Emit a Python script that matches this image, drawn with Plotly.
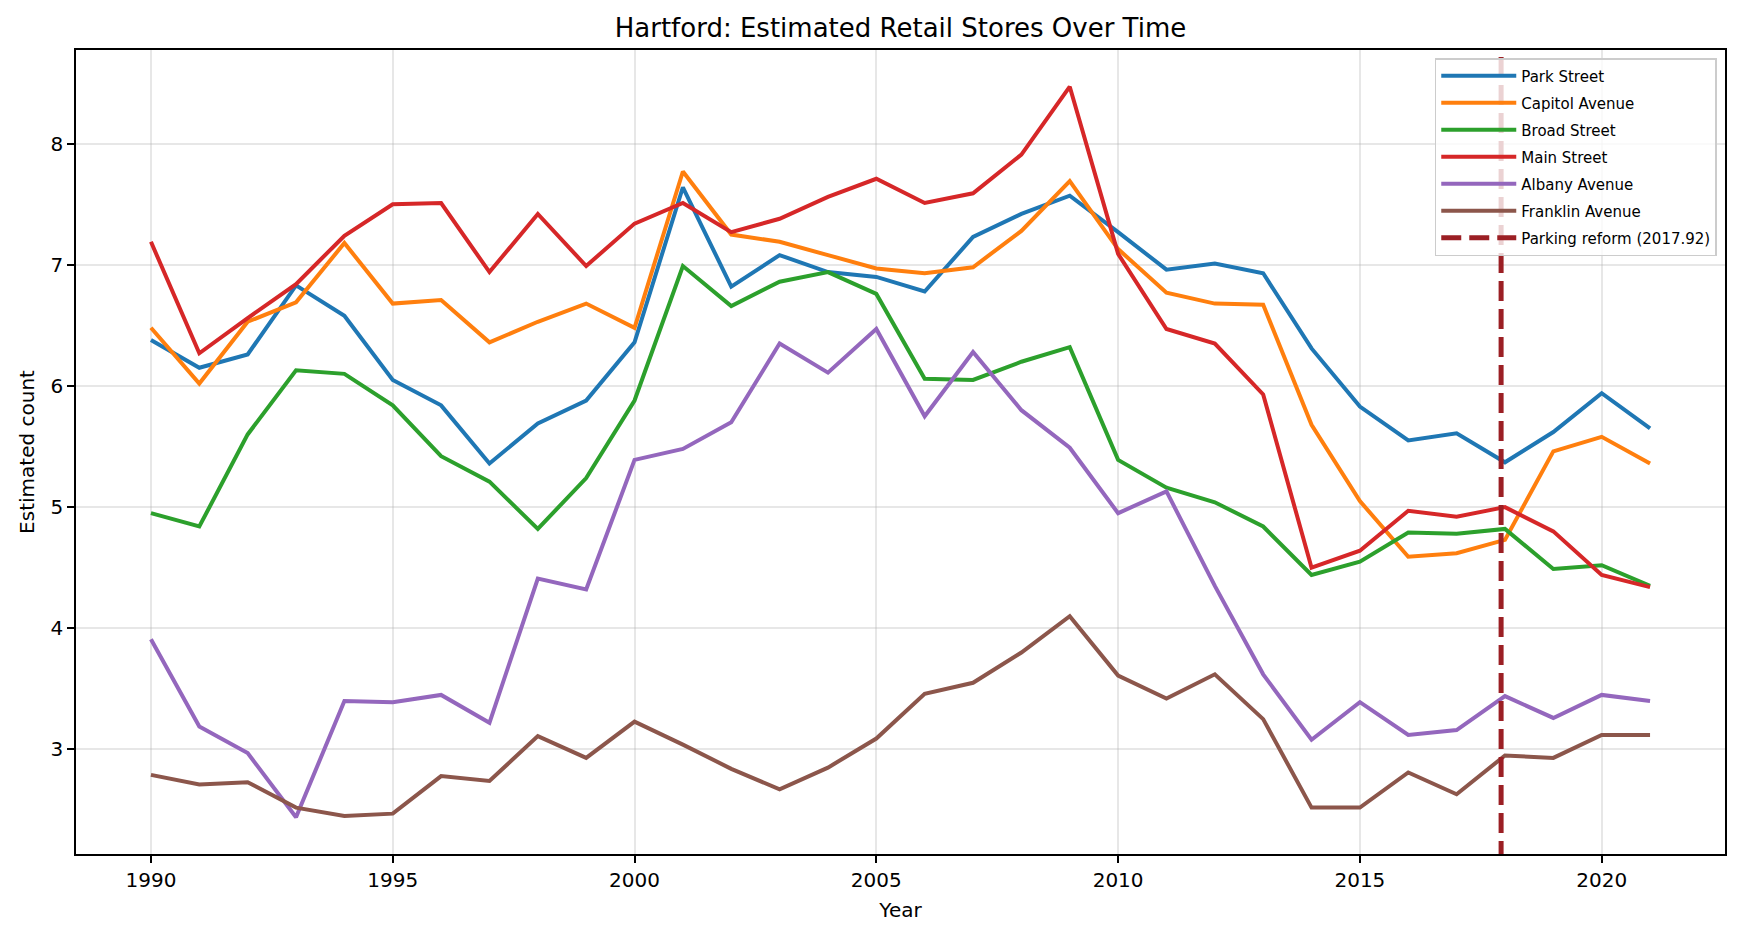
import plotly.graph_objects as go

# years covered by the estimates
years = list(range(1990, 2022))

park_street = [6.38, 6.15, 6.26, 6.83, 6.58, 6.05, 5.84, 5.36, 5.69, 5.88, 6.36, 7.64, 6.82, 7.08, 6.94, 6.90,
               6.78, 7.23, 7.42, 7.57, 7.27, 6.96, 7.01, 6.93, 6.31, 5.83, 5.55, 5.61, 5.37, 5.62, 5.94, 5.65]
capitol_avenue = [6.48, 6.02, 6.53, 6.69, 7.18, 6.68, 6.71, 6.36, 6.53, 6.68, 6.48, 7.77, 7.25, 7.19, 7.08, 6.97,
                  6.93, 6.98, 7.28, 7.69, 7.13, 6.77, 6.68, 6.67, 5.68, 5.05, 4.59, 4.62, 4.73, 5.46, 5.58, 5.36]
broad_street = [4.95, 4.84, 5.60, 6.13, 6.10, 5.84, 5.42, 5.21, 4.82, 5.24, 5.88, 6.99, 6.66, 6.86, 6.94, 6.76,
                6.06, 6.05, 6.20, 6.32, 5.39, 5.16, 5.04, 4.84, 4.44, 4.55, 4.79, 4.78, 4.82, 4.49, 4.52, 4.35]
main_street = [7.19, 6.27, 6.56, 6.84, 7.24, 7.50, 7.51, 6.94, 7.42, 6.99, 7.34, 7.51, 7.27, 7.38, 7.56, 7.71,
               7.51, 7.59, 7.91, 8.47, 7.09, 6.47, 6.35, 5.93, 4.50, 4.64, 4.97, 4.92, 5.00, 4.80, 4.44, 4.34]
albany_avenue = [3.91, 3.19, 2.97, 2.44, 3.40, 3.39, 3.45, 3.22, 4.41, 4.32, 5.39, 5.48, 5.70, 6.35, 6.11, 6.47,
                 5.75, 6.28, 5.80, 5.49, 4.95, 5.13, 4.35, 3.62, 3.08, 3.39, 3.12, 3.16, 3.44, 3.26, 3.45, 3.40]
franklin_avenue = [2.79, 2.71, 2.73, 2.52, 2.45, 2.47, 2.78, 2.74, 3.11, 2.93, 3.23, 3.04, 2.84, 2.67, 2.85, 3.09,
                   3.46, 3.55, 3.80, 4.10, 3.61, 3.42, 3.62, 3.25, 2.52, 2.52, 2.81, 2.63, 2.95, 2.93, 3.12, 3.12]

street_names = ["Park Street", "Capitol Avenue", "Broad Street", "Main Street", "Albany Avenue", "Franklin Avenue"]
street_values = [park_street, capitol_avenue, broad_street, main_street, albany_avenue, franklin_avenue]
colors = ["#1f77b4", "#ff7f0e", "#2ca02c", "#d62728", "#9467bd", "#8c564b"]

reform_year = 2017.92

fig = go.Figure()
for i, (name, vals, c) in enumerate(zip(street_names, street_values, colors)):
    fig.add_trace(go.Scatter(x=years, y=vals, mode="lines", name=name, legendgroup=f"g{i}",
                             line=dict(color=c, width=4)))

# dashed reform marker (also listed in the legend)
fig.add_trace(go.Scatter(x=[reform_year, reform_year], y=[0, 20], mode="lines",
                         name=f"Parking reform ({reform_year})", legendgroup="reform",
                         line=dict(color="#9b1f24", width=5, dash="20px,8px")))

grid_col = "rgba(176,176,176,0.3)"
font_family = "DejaVu Sans"

fig.update_xaxes(range=[1988.45, 2022.55], tickvals=[1990, 1995, 2000, 2005, 2010, 2015, 2020],
                 showgrid=True, gridcolor=grid_col, gridwidth=1.6, zeroline=False,
                 showline=True, linecolor="black", linewidth=1.7, mirror=True,
                 ticks="outside", ticklen=7, tickwidth=1.7, tickcolor="black",
                 tickfont=dict(size=20, color="black"),
                 title=dict(text="Year", font=dict(size=20, color="black"), standoff=12))
fig.update_yaxes(range=[2.137, 8.773], tickvals=[3, 4, 5, 6, 7, 8],
                 showgrid=True, gridcolor=grid_col, gridwidth=1.6, zeroline=False,
                 showline=True, linecolor="black", linewidth=1.7, mirror=True,
                 ticks="outside", ticklen=7, tickwidth=1.7, tickcolor="black",
                 tickfont=dict(size=20, color="black"),
                 title=dict(text="Estimated count", font=dict(size=20, color="black"), standoff=10))

fig.update_layout(
    width=1741, height=936,
    margin=dict(l=68, r=24, t=42, b=90),
    plot_bgcolor="white", paper_bgcolor="white",
    font=dict(family=font_family, color="black"),
    title=dict(text="Hartford: Estimated Retail Stores Over Time", x=0.5, xref="paper",
               y=0.979, yanchor="middle", font=dict(size=26, color="black")),
    legend=dict(x=0.995, y=0.99, xanchor="right", yanchor="top",
                bgcolor="rgba(255,255,255,0.8)", bordercolor="#cccccc", borderwidth=1.5,
                font=dict(size=15, color="black"), tracegroupgap=4.5, itemwidth=75),
    showlegend=True,
)

fig.write_html("out.html")
